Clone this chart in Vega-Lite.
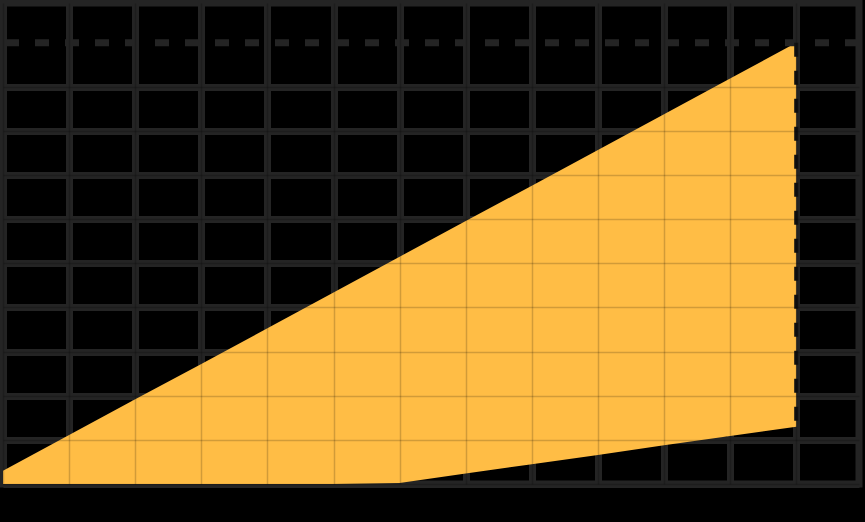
{
  "$schema": "https://vega.github.io/schema/vega-lite/v6.json",
  "width": 856,
  "height": 481,
  "autosize": {"type": "none"},
  "padding": {"left": 3, "top": 3, "right": 6, "bottom": 38},
  "background": "#000000",
  "config": {"view": {"stroke": "#242424", "strokeWidth": 7}},
  "data": {
    "values": [
      {"x": 0, "top": 0.3, "bottom": 0},
      {"x": 1, "top": 1.11, "bottom": 0},
      {"x": 2, "top": 1.92, "bottom": 0},
      {"x": 3, "top": 2.72, "bottom": 0},
      {"x": 4, "top": 3.53, "bottom": 0},
      {"x": 5, "top": 4.34, "bottom": 0},
      {"x": 6, "top": 5.15, "bottom": 0.02},
      {"x": 7, "top": 5.96, "bottom": 0.24},
      {"x": 8, "top": 6.76, "bottom": 0.45},
      {"x": 9, "top": 7.57, "bottom": 0.66},
      {"x": 10, "top": 8.38, "bottom": 0.88},
      {"x": 11, "top": 9.19, "bottom": 1.09},
      {"x": 12, "top": 10.0, "bottom": 1.3}
    ]
  },
  "resolve": {"axis": {"x": "independent", "y": "independent"}},
  "layer": [
    {
      "mark": {"type": "area", "color": "#FFBD45", "opacity": 1},
      "encoding": {
        "x": {
          "field": "x", "type": "quantitative",
          "scale": {"domain": [0, 12.95], "nice": false, "zero": false},
          "axis": {"values": [0,1,2,3,4,5,6,7,8,9,10,11,12], "grid": true, "gridColor": "#242424", "gridWidth": 7, "gridOpacity": 1, "labels": false, "ticks": false, "domain": false, "title": null, "zindex": 0}
        },
        "y": {
          "field": "top", "type": "quantitative",
          "scale": {"domain": [0, 10.9], "nice": false},
          "axis": {"values": [0,1,2,3,4,5,6,7,8,9], "grid": true, "gridColor": "#242424", "gridWidth": 7, "gridOpacity": 1, "labels": false, "ticks": false, "domain": false, "title": null, "zindex": 0}
        },
        "y2": {"field": "bottom"}
      }
    },
    {
      "mark": {"type": "point", "opacity": 0},
      "encoding": {
        "x": {
          "field": "x", "type": "quantitative",
          "axis": {"values": [0,1,2,3,4,5,6,7,8,9,10,11,12], "grid": true, "gridColor": "#000000", "gridWidth": 1.5, "gridOpacity": 0.18, "labels": false, "ticks": false, "domain": false, "title": null, "zindex": 1}
        },
        "y": {
          "field": "top", "type": "quantitative",
          "axis": {"values": [0,1,2,3,4,5,6,7,8,9], "grid": true, "gridColor": "#000000", "gridWidth": 1.5, "gridOpacity": 0.18, "labels": false, "ticks": false, "domain": false, "title": null, "zindex": 1}
        }
      }
    },
    {
      "mark": {"type": "rule", "color": "#242424", "strokeWidth": 7, "strokeDash": [14, 16]},
      "encoding": {
        "y": {"aggregate": "max", "field": "top", "type": "quantitative", "axis": null}
      }
    },
    {
      "transform": [{"filter": "datum.x == 12"}],
      "mark": {"type": "rule", "color": "#111111", "strokeWidth": 4, "strokeDash": [14, 14]},
      "encoding": {
        "x": {"field": "x", "type": "quantitative", "axis": null},
        "y": {"field": "top", "type": "quantitative", "axis": null},
        "y2": {"field": "bottom"}
      }
    }
  ]
}
